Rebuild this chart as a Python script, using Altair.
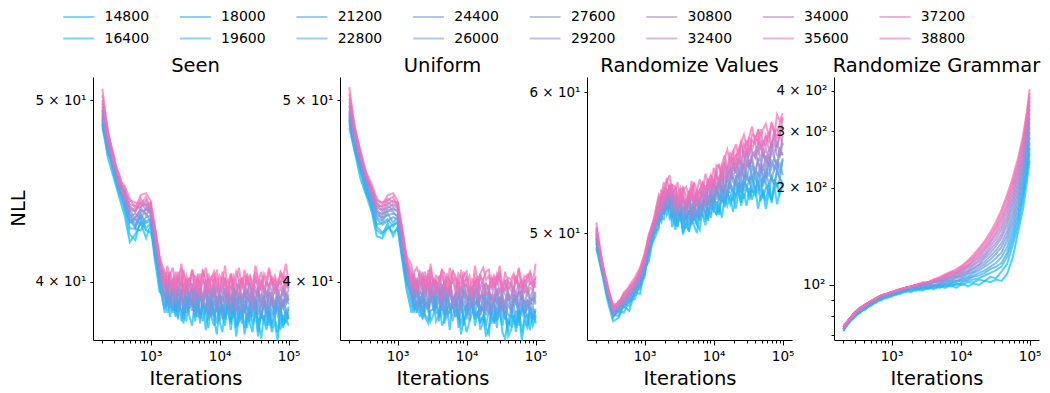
import altair as alt
import pandas as pd

# ---------------- data ----------------
# iterations for the three noisy panels (Seen, Uniform, Randomize Values)
ITERS_FINE = [200, 240, 290, 350, 420, 500, 600, 720, 860, 1000, 1150, 1350,
              1600, 1750, 1900, 2100, 2300, 2500, 2800, 3000, 3300, 3600, 4000, 4400, 4800,
              5200, 5700, 6300, 6900, 7600, 8300, 9100, 10000, 11000, 12000, 13200, 14500,
              15800, 17400, 19100, 21000, 23000, 25000, 27500, 30000, 33000, 36000, 40000,
              44000, 48000, 52000, 57000, 63000, 69000, 76000, 83000, 91000, 100000]

# iterations for the smooth panel (Randomize Grammar)
ITERS = [200, 240, 290, 350, 420, 500, 600, 720, 860, 1000, 1150, 1350, 1600, 1900,
         2300, 2800, 3400, 4100, 5000, 6000, 7200, 8700, 10500, 12700, 15300, 18500,
         22300, 27000, 32500, 39000, 47000, 57000, 68000, 80000, 91000, 100000]

SERIES = ["14800", "16400", "18000", "19600", "21200", "22800", "24400", "26000",
          "27600", "29200", "30800", "32400", "34000", "35600", "37200", "38800"]

COLORS = ["#00bfff", "#11b9fa", "#22b4f5", "#33aef0", "#44a8eb", "#55a2e6", "#669de1", "#7797dc",
          "#8891d7", "#998bd2", "#aa86cd", "#bb80c8", "#cc7ac3", "#dd74be", "#ee6fb9", "#ff69b4"]

PANEL_TITLES = ["Seen", "Uniform", "Randomize Values", "Randomize Grammar"]

# NLL in tenths
SEEN = [
    [485,466,455,444,434,420,424,430,422,429,411,395, 394,385,389,398,383,391,386,380,393,387,396,381,388,384,392,377,386,390,382,375,388,384,379,391,381,386,374,383,389,378,385,380,376,387,382,373,384,379,386,376,381,372,385,378,383,379],
    [487,471,457,446,438,424,421,432,426,425,417,398, 387,395,383,390,386,397,381,389,393,384,379,392,386,382,390,385,378,394,383,388,381,376,389,385,380,392,378,384,387,375,382,389,379,385,374,386,381,377,388,380,383,376,387,379,384,382],
    [483,473,460,448,442,427,427,426,431,432,413,402, 398,388,393,385,391,382,396,387,381,394,389,384,397,380,390,386,393,383,379,391,385,388,382,390,377,386,392,381,384,389,378,387,383,391,376,385,381,388,379,386,383,390,377,384,380,387],
    [489,470,461,451,437,431,428,434,427,430,418,399, 385,393,389,399,384,388,395,382,390,386,392,383,387,398,381,389,384,391,386,380,393,387,383,389,385,394,379,388,383,386,390,381,387,392,380,384,389,382,386,378,391,384,388,381,386,383],
    [490,475,459,447,443,430,432,429,433,434,414,403, 392,400,387,394,389,383,396,390,385,393,399,386,391,384,388,395,382,390,387,393,381,389,385,392,388,383,395,386,380,391,387,384,393,385,389,382,390,386,381,392,384,388,385,391,387,382],
    [486,468,463,452,440,434,427,435,430,431,420,404, 389,396,392,386,399,390,394,385,397,388,391,395,383,393,389,386,396,384,391,387,394,382,390,397,385,389,384,393,388,395,382,390,386,392,384,389,394,383,388,391,385,393,386,390,383,388],
    [492,472,459,453,444,431,433,437,435,431,419,405, 401,391,388,397,393,386,395,399,387,392,389,396,385,394,390,397,388,383,395,391,386,393,389,396,384,391,387,394,389,385,396,388,392,386,394,383,391,387,395,389,385,392,390,387,393,389],
    [488,477,464,448,440,436,429,436,437,435,421,401, 393,398,390,402,389,395,392,387,399,393,386,396,391,394,388,398,385,392,396,389,393,387,395,390,384,397,391,388,394,386,392,390,397,385,391,394,388,392,386,395,389,393,387,391,390,394],
    [494,474,461,454,445,433,435,432,438,436,423,406, 399,393,402,395,390,398,394,387,401,392,397,389,395,400,391,388,396,393,399,386,394,391,397,389,393,388,396,392,385,398,390,394,387,392,396,389,393,386,395,391,388,394,390,396,389,392],
    [491,475,465,450,447,437,432,438,434,438,420,407, 392,401,395,389,398,393,403,390,396,394,388,399,393,397,390,401,387,395,392,398,389,394,396,388,392,399,386,395,391,393,397,389,394,390,398,387,392,396,390,393,389,397,392,388,395,391],
    [496,476,462,455,442,438,437,439,440,435,424,408, 404,395,399,393,401,396,390,399,394,402,391,397,395,400,389,396,402,393,398,391,395,399,392,397,390,396,394,399,391,395,393,400,388,397,394,391,398,393,396,390,399,394,392,397,393,396],
    [494,480,466,451,448,437,436,441,437,440,425,409, 396,403,394,400,397,405,392,399,395,401,398,391,404,396,393,400,397,392,401,395,398,394,402,390,397,399,394,401,392,396,403,391,398,395,393,400,396,392,399,395,401,393,397,394,400,396],
    [498,478,463,456,444,440,439,438,442,436,427,410, 402,397,405,399,394,402,398,406,393,400,396,403,398,392,401,397,404,395,399,402,393,398,401,396,404,392,399,397,402,395,400,398,393,403,396,401,394,399,397,402,395,398,400,396,403,397],
    [500,481,467,452,449,439,436,443,439,441,426,411, 397,405,400,396,403,398,407,394,401,399,404,395,402,398,406,393,400,397,403,399,395,405,398,401,396,403,399,394,402,397,404,398,395,401,399,405,396,400,398,403,394,401,399,404,397,400],
    [503,483,464,457,446,442,441,440,444,437,428,412, 405,399,403,407,396,401,398,404,400,395,406,399,402,397,405,401,394,403,399,406,397,402,400,395,404,398,401,407,396,403,399,402,397,405,400,396,403,398,406,399,401,397,404,400,402,398],
    [507,480,468,453,450,443,438,445,446,442,429,413, 399,408,402,397,405,400,409,396,403,399,406,401,395,404,400,407,398,402,405,397,403,400,408,394,402,399,405,401,397,406,400,403,398,408,402,396,404,401,407,399,403,397,405,402,409,400],
]

UNIFORM = [
    [483,469,454,445,436,423,422,428,425,427,412,396, 385,394,398,389,391,383,380,386,387,393,381,396,384,388,377,392,390,386,375,382,384,388,391,379,386,381,383,374,378,389,380,385,387,376,373,382,379,384,376,386,372,381,378,385,379,383],
    [488,470,458,447,439,426,424,430,423,428,415,399, 395,387,390,383,397,386,389,381,384,393,392,379,382,386,385,390,394,378,388,383,376,381,385,389,392,380,384,378,375,387,389,382,385,379,386,374,377,381,380,388,376,383,379,387,382,384],
    [485,474,459,446,440,428,425,427,429,430,414,400, 388,398,385,393,382,391,387,396,394,381,384,389,380,397,386,390,383,393,391,379,388,385,390,382,386,377,381,392,389,384,387,378,391,383,385,376,388,381,386,379,390,383,384,377,387,380],
    [489,471,462,450,438,429,430,432,428,431,417,401, 393,385,399,389,388,384,382,395,386,390,383,392,398,387,389,381,391,384,380,386,387,393,389,383,394,385,388,379,386,383,381,390,392,387,384,380,382,389,378,386,384,391,381,388,383,386],
    [491,475,460,449,442,432,429,431,433,432,416,402, 400,392,394,387,383,389,390,396,393,385,386,399,384,391,395,388,390,382,393,387,389,381,392,385,383,388,386,395,391,380,384,387,385,393,382,389,386,390,392,381,388,384,391,385,382,387],
    [487,470,461,452,441,433,431,435,430,433,419,404, 396,389,386,392,390,399,385,394,388,397,395,391,393,383,386,389,384,396,387,391,382,394,397,390,389,385,393,384,395,388,390,382,392,386,389,384,383,394,391,388,393,385,390,386,388,383],
    [492,473,463,451,444,434,433,434,435,434,418,405, 391,401,397,388,386,393,399,395,392,387,396,389,394,385,397,390,383,388,391,395,393,386,396,389,391,384,394,387,385,389,388,396,386,392,383,394,387,391,389,395,392,385,387,390,389,393],
    [490,477,462,453,443,436,432,437,436,433,421,403, 398,393,402,390,395,389,387,392,393,399,396,386,394,391,398,388,392,385,389,396,387,393,390,395,397,384,388,391,386,394,390,392,385,397,394,391,392,388,395,386,393,389,391,387,394,390],
    [494,476,465,452,446,435,435,436,438,436,422,407, 393,399,395,402,398,390,387,394,392,401,389,397,400,395,388,391,393,396,386,399,391,394,389,397,388,393,392,396,398,385,394,390,392,387,389,396,386,393,391,395,394,388,396,390,392,389],
    [493,478,464,455,445,437,434,439,437,437,423,406, 401,392,389,395,393,398,390,403,394,396,399,388,397,393,401,390,395,387,398,392,394,389,388,396,399,392,395,386,393,391,389,397,390,394,387,398,396,392,393,390,397,389,388,392,391,395],
    [496,479,466,454,448,438,437,438,440,439,424,408, 395,404,393,399,396,401,399,390,402,394,397,391,400,395,396,389,393,402,391,398,399,395,397,392,396,390,399,394,395,391,400,393,397,388,391,394,393,398,390,396,394,399,397,392,396,393],
    [497,480,467,456,447,440,436,441,439,438,426,409, 403,396,400,394,405,397,399,392,401,395,391,398,396,404,400,393,392,397,395,401,394,398,390,402,399,397,401,394,396,392,391,403,395,398,400,393,392,396,395,399,393,401,394,397,396,400],
    [499,482,468,455,449,439,439,440,442,440,425,410, 397,402,399,405,402,394,406,398,400,393,403,396,392,398,397,401,395,404,402,399,398,393,396,401,392,404,397,399,395,402,398,400,403,393,401,396,399,394,402,397,398,395,396,400,397,403],
    [501,481,466,457,448,441,438,443,441,441,427,411, 405,397,396,400,398,403,394,407,399,401,395,404,398,402,393,406,397,400,399,403,405,395,401,398,403,396,394,399,397,402,398,404,401,395,405,399,400,396,403,398,401,394,404,399,400,397],
    [504,484,469,456,450,442,441,442,444,439,428,412, 399,405,407,403,401,396,404,398,395,400,399,406,397,402,401,405,403,394,406,399,402,397,395,400,398,404,407,401,403,396,402,399,405,397,396,400,398,403,399,406,397,401,400,404,398,402],
    [508,483,470,458,451,443,440,445,446,442,429,413, 408,399,397,402,400,405,396,409,399,403,401,406,404,395,407,400,402,398,397,405,400,403,394,408,399,402,401,405,406,397,403,400,408,398,396,402,401,404,399,407,397,403,402,405,400,409],
]

RAND_VALUES = [
    [490,475,458,446,448,455,452,463,462,477,482,499, 510,507,520,512,518,504,512,504,514,499,506,501,514,505,500,513,512,505,517,510,522,512,518,510,525,518,525,514,525,531,518,526,518,530,522,531,516,524,527,516,526,522,531,519,528,532],
    [494,477,461,449,452,451,458,459,468,472,489,495, 503,518,514,523,510,514,502,513,510,504,513,501,509,512,506,502,517,514,508,523,515,521,512,525,520,528,519,525,516,528,532,523,531,522,529,525,535,521,529,521,532,520,530,533,526,532],
    [491,478,460,450,449,456,455,464,465,476,485,500, 515,510,509,520,517,522,506,508,515,500,511,514,506,512,505,519,512,509,519,524,515,512,525,523,517,528,527,521,533,526,520,534,532,525,536,531,527,536,523,530,533,522,536,531,536,530],
    [495,476,463,448,453,454,459,461,469,474,490,497, 508,521,512,520,525,511,514,504,515,510,503,514,518,508,514,508,522,513,510,521,525,517,514,529,526,523,534,529,524,534,523,537,530,536,527,541,532,528,537,533,525,537,532,542,537,533],
    [493,479,462,451,451,457,457,465,467,479,487,502, 514,508,520,516,525,508,518,514,508,517,509,515,505,521,509,517,515,523,514,513,524,527,522,532,520,529,533,525,539,529,535,528,540,535,539,527,540,537,531,541,533,538,532,543,547,539],
    [497,477,464,449,454,455,461,463,471,476,492,499, 504,518,525,516,518,526,509,516,518,509,519,505,515,518,510,522,515,511,522,526,519,532,523,521,530,537,530,527,537,540,527,539,538,534,546,536,532,543,540,535,547,535,545,542,536,551],
    [496,480,461,452,452,458,459,466,469,480,490,503, 517,517,514,528,518,514,524,513,517,507,518,520,511,514,523,509,520,525,518,528,519,528,535,525,531,525,538,537,533,531,545,536,544,548,536,542,539,547,533,544,538,550,543,550,540,550],
    [499,478,465,450,455,456,462,464,473,478,493,501, 510,523,513,524,527,519,511,524,519,511,513,524,511,520,511,523,526,518,523,516,531,530,525,538,526,537,543,534,532,543,539,547,535,546,549,541,550,540,545,538,552,544,551,543,557,553],
    [497,481,463,453,453,460,460,467,471,482,492,505, 516,513,528,520,516,526,520,512,525,515,522,513,510,524,522,519,516,530,521,528,534,522,535,530,542,530,534,544,541,537,549,538,548,544,552,539,551,549,542,553,545,557,550,546,557,553],
    [500,479,466,451,456,458,463,466,474,479,495,503, 509,523,523,519,532,520,526,513,521,523,514,526,517,512,524,528,522,518,529,534,524,533,530,542,529,538,544,536,548,541,537,549,554,544,552,556,547,543,554,551,545,557,562,553,552,562],
    [499,482,464,454,454,461,462,468,472,483,494,506, 523,518,517,529,523,532,516,522,526,513,523,516,528,523,517,521,531,518,531,527,536,527,537,543,534,541,534,548,541,550,548,544,558,546,555,551,560,549,558,545,556,561,554,562,553,567],
    [502,480,467,452,457,457,464,467,475,481,496,505, 513,526,527,519,533,524,531,517,520,525,513,528,523,519,529,518,526,532,521,533,531,542,532,537,546,536,547,551,540,550,546,556,545,560,556,552,563,559,551,558,550,562,566,559,568,560],
    [501,483,465,455,455,462,464,469,474,484,496,507, 520,514,530,529,524,533,516,526,530,520,518,527,531,518,526,529,525,522,536,535,529,538,530,545,548,542,539,550,553,544,560,552,556,553,564,561,553,564,556,567,557,561,571,559,569,575],
    [504,481,468,453,458,459,465,470,476,484,497,506, 513,524,534,525,532,522,530,523,517,530,525,521,528,532,518,529,533,526,530,539,530,541,547,536,545,542,555,543,552,557,547,561,556,566,557,565,570,557,563,560,570,558,569,572,568,580],
    [503,484,466,456,456,463,466,470,477,486,498,509, 525,520,526,537,526,532,531,518,529,530,519,526,521,534,529,521,535,529,535,529,544,538,535,547,553,543,551,556,546,556,563,556,564,554,568,567,562,572,560,568,563,576,571,565,576,581],
    [507,482,467,454,457,461,467,472,478,487,499,508, 518,529,522,534,539,527,529,534,520,529,531,524,535,523,528,536,527,540,532,539,533,546,545,538,551,557,548,554,561,552,562,568,559,567,574,561,572,566,572,576,567,577,568,583,578,584],
]

# NLL in units
RAND_GRAMMAR = [
    [72,76,80,82,85,86,89,90,92,92,94,94,96,95,97,96,98,97,99,98,100,98,101,99,101,100,103,102,104,103,108,122,146,172,208,243],
    [73,77,79,83,84,87,88,91,91,93,93,95,95,97,96,98,97,99,98,100,99,101,100,102,102,104,103,106,105,110,116,133,153,185,221,256],
    [74,76,81,82,86,87,90,90,93,93,95,94,97,96,98,97,99,98,100,99,101,100,102,103,104,105,107,109,111,114,122,138,160,190,228,266],
    [72,77,80,83,84,88,89,92,92,94,94,96,96,98,97,99,98,100,99,101,101,103,103,104,106,107,109,112,114,117,126,143,166,198,237,277],
    [73,78,81,84,86,87,90,91,93,94,95,95,97,97,99,98,100,99,100,101,102,102,104,105,107,109,111,114,117,122,131,149,172,206,246,288],
    [74,77,81,83,85,88,89,92,92,95,94,96,96,99,98,100,99,100,101,102,103,103,105,106,109,111,114,117,121,126,137,155,179,213,255,298],
    [73,78,80,84,86,88,90,91,93,94,96,96,98,98,100,99,101,100,101,103,103,105,106,108,110,113,116,120,125,131,142,161,186,221,264,309],
    [74,77,82,84,87,88,90,92,93,95,95,97,97,99,99,100,100,102,102,103,104,106,107,109,112,115,118,123,128,135,147,167,193,229,273,320],
    [73,78,81,84,86,89,91,92,94,94,96,96,98,98,100,100,101,102,103,104,105,106,108,110,113,116,121,126,132,140,153,174,200,236,282,330],
    [74,78,82,85,87,89,91,93,93,95,96,97,98,99,100,101,102,102,103,104,106,107,109,111,115,118,123,129,135,144,158,180,207,244,291,341],
    [73,77,81,85,86,89,91,93,94,95,96,97,98,99,100,101,102,102,103,105,106,108,110,113,116,120,125,132,139,149,163,186,214,252,300,352],
    [74,78,82,84,87,89,91,93,94,95,96,97,98,99,100,101,102,103,104,106,107,109,111,114,118,122,128,135,143,153,169,192,221,259,309,362],
    [74,78,81,85,87,89,91,93,94,95,96,97,98,99,100,101,102,103,104,106,108,109,112,115,119,124,130,137,146,158,174,198,227,267,318,373],
    [73,78,82,85,87,89,91,93,94,95,96,97,98,99,100,101,102,103,105,107,109,110,113,116,121,126,132,140,150,162,179,204,234,275,327,384],
    [74,78,82,85,87,89,91,93,94,95,96,97,98,99,100,102,102,104,105,107,109,111,114,118,122,128,135,143,153,167,185,210,241,282,336,394],
    [75,78,82,85,87,89,91,93,94,95,96,97,98,99,100,101,102,104,106,108,110,112,115,119,124,130,137,146,157,171,190,216,248,290,345,405],
]

X_TICKS = [200, 300, 400, 500, 600, 700, 800, 900, 1000,
           2000, 3000, 4000, 5000, 6000, 7000, 8000, 9000, 10000,
           20000, 30000, 40000, 50000, 60000, 70000, 80000, 90000, 100000]
X_MAJOR = {1000: "10³", 10000: "10⁴", 100000: "10⁵"}

Y_TICKS_SEEN = {40: "4 × 10¹", 50: "5 × 10¹"}
Y_TICKS_VALUES = {50: "5 × 10¹", 60: "6 × 10¹"}
Y_TICKS_GRAMMAR = {70: "", 80: "", 90: "", 100: "10²", 200: "2 × 10²", 300: "3 × 10²", 400: "4 × 10²"}

Y_DOMAINS = [[37.24, 51.44], [37.24, 51.44], [43.53, 61.2], [67.5, 442]]
X_DOMAIN = [146.6, 136500]

FONT = "DejaVu Sans"

for block, its in ((SEEN, ITERS_FINE), (UNIFORM, ITERS_FINE), (RAND_VALUES, ITERS_FINE), (RAND_GRAMMAR, ITERS)):
    assert len(block) == len(SERIES)
    for k, row in enumerate(block):
        assert len(row) == len(its), (k, len(row), len(its))


def label_expr(mapping):
    expr = "''"
    for v, lab in reversed(list(mapping.items())):
        expr = f"datum.value == {v} ? '{lab}' : ({expr})"
    return expr


def panel(idx, block, iters, divisor, yticks, ymajor):
    rows = []
    for s, vals in zip(SERIES, block):
        for it, v in zip(iters, vals):
            rows.append({"iter": it, "nll": v / divisor, "series": s})
    df = pd.DataFrame(rows)

    x_test = " || ".join(f"datum.value == {v}" for v in X_MAJOR)
    x_axis = alt.Axis(
        values=X_TICKS, labelExpr=label_expr(X_MAJOR), title="Iterations",
        tickSize={"condition": {"test": x_test, "value": 5}, "value": 3},
        grid=False, labelOverlap=False, labelFlush=False,
        domainColor="black", domainWidth=1, tickColor="black", tickWidth=1,
        labelFont=FONT, labelFontSize=13.5, labelColor="black", labelPadding=4,
        titleFont=FONT, titleFontSize=19.5, titleFontWeight="normal", titleColor="black",
        titleY=44, titleBaseline="alphabetic",
    )
    y_test = " || ".join(f"datum.value == {v}" for v in ymajor) if ymajor else "false"
    y_kwargs = dict(
        values=list(yticks.keys()), labelExpr=label_expr(yticks),
        tickSize={"condition": {"test": y_test, "value": 5}, "value": 3},
        grid=False, labelOverlap=False, labelFlush=False,
        domainColor="black", domainWidth=1, tickColor="black", tickWidth=1,
        labelFont=FONT, labelFontSize=13.5, labelColor="black", labelPadding=4,
    )
    if idx == 0:
        y_axis = alt.Axis(title="NLL", titleFont=FONT, titleFontSize=19.5, titleFontWeight="normal",
                          titleColor="black", titleX=-75, titleY=131, titleAngle=270,
                          titleBaseline="middle", titleAlign="center", **y_kwargs)
    else:
        y_axis = alt.Axis(title=None, **y_kwargs)

    color = alt.Color(
        "series:N",
        scale=alt.Scale(domain=SERIES, range=COLORS),
        legend=alt.Legend(
            title=None, orient="none", legendX=-23.25, legendY=-69, columns=8,
            symbolType="M-2,0H2", symbolSize=240, symbolStrokeWidth=2, symbolOpacity=0.55,
            labelFont=FONT, labelFontSize=14, labelColor="black", labelOffset=16.75,
            columnPadding=25.6, rowPadding=5.5, padding=0,
        ),
    )
    return alt.Chart(df).mark_line(strokeWidth=2, opacity=0.7).encode(
        x=alt.X("iter:Q", scale=alt.Scale(type="log", domain=X_DOMAIN), axis=x_axis),
        y=alt.Y("nll:Q", scale=alt.Scale(type="log", domain=Y_DOMAINS[idx]), axis=y_axis),
        color=color,
    ).properties(
        width=205, height=263,
        title=alt.Title(PANEL_TITLES[idx], font=FONT, fontSize=19.5, fontWeight="normal",
                        color="black", anchor="middle", frame="group", offset=4, dy=18,
                        baseline="alphabetic"),
    )


charts = [
    panel(0, SEEN, ITERS_FINE, 10, Y_TICKS_SEEN, []),
    panel(1, UNIFORM, ITERS_FINE, 10, Y_TICKS_SEEN, []),
    panel(2, RAND_VALUES, ITERS_FINE, 10, Y_TICKS_VALUES, []),
    panel(3, RAND_GRAMMAR, ITERS, 1, Y_TICKS_GRAMMAR, [100]),
]

chart = alt.hconcat(*charts, spacing=42, bounds="flush").properties(
    padding={"left": 0, "top": 0, "right": 0, "bottom": 0}
).configure_view(stroke=None)

chart.save("out.html", embed_options={"renderer": "svg", "actions": False})
